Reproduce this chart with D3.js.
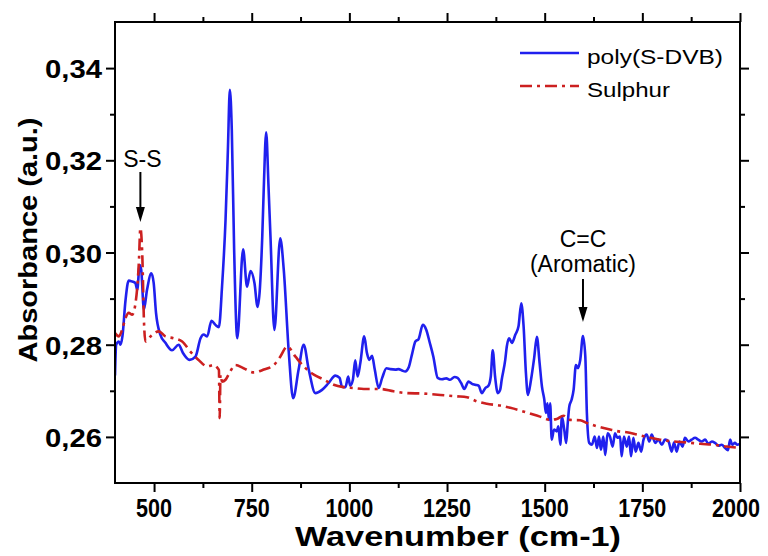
<!DOCTYPE html>
<html><head><meta charset="utf-8">
<script src="https://cdn.jsdelivr.net/npm/d3@7/dist/d3.min.js"></script>
<style>body{margin:0;background:#fff}svg{display:block}</style>
</head><body>
<svg id="chart" width="768" height="556"></svg>
<script>
// ---- data ----
const polyWavenumber = [400,403,410,414,419,427,435,444,452,457,463,467,474,482,493,499,505,516,529,546,563,574,591,606,619,627,636,647,657,666,674,683,689,694,699,705,713,728,738,747,757,765,777,781,787,793,798,808,823,832,845,856,870,883,896,913,930,947,964,975,981,990,997,1002,1009,1015,1021,1028,1038,1045,1051,1058,1065,1075,1084,1095,1105,1118,1126,1135,1143,1152,1160,1169,1177,1188,1197,1205,1215,1226,1237,1248,1258,1269,1277,1286,1294,1305,1314,1322,1331,1339,1348,1356,1362,1367,1373,1380,1386,1390,1399,1403,1409,1416,1425,1433,1440,1446,1452,1457,1465,1473,1480,1487,1493,1499,1503,1507,1511,1514,1518,1524,1531,1535,1540,1544,1550,1555,1559,1563,1569,1574,1580,1585,1591,1598,1604,1608,1614,1621,1628,1634,1639,1644,1650,1655,1661,1667,1674,1680,1686,1693,1697,1703,1710,1716,1721,1727,1733,1740,1747,1753,1761,1768,1774,1783,1791,1800,1808,1817,1825,1831,1838,1845,1853,1859,1868,1876,1885,1893,1902,1911,1919,1928,1936,1945,1953,1962,1969,1975,1980,1987,1993,2000];
const polyAbsorbance = [0.2733,0.2800,0.2807,0.2800,0.2818,0.2897,0.2939,0.2937,0.2934,0.2919,0.2973,0.2963,0.2876,0.2919,0.2955,0.2934,0.2869,0.2822,0.2804,0.2788,0.2800,0.2782,0.2767,0.2774,0.2814,0.2822,0.2818,0.2852,0.2843,0.2838,0.2926,0.3071,0.3222,0.3353,0.3266,0.3006,0.2814,0.3007,0.2926,0.2960,0.2934,0.2882,0.3035,0.3143,0.3261,0.3143,0.3035,0.2832,0.3031,0.2963,0.2782,0.2684,0.2746,0.2800,0.2746,0.2695,0.2702,0.2717,0.2733,0.2728,0.2709,0.2708,0.2731,0.2711,0.2724,0.2766,0.2731,0.2760,0.2818,0.2782,0.2767,0.2776,0.2746,0.2706,0.2728,0.2749,0.2747,0.2746,0.2747,0.2744,0.2742,0.2751,0.2778,0.2807,0.2812,0.2843,0.2832,0.2807,0.2774,0.2728,0.2725,0.2727,0.2724,0.2730,0.2728,0.2717,0.2704,0.2720,0.2715,0.2713,0.2711,0.2695,0.2706,0.2711,0.2731,0.2788,0.2731,0.2695,0.2702,0.2724,0.2767,0.2796,0.2814,0.2804,0.2822,0.2840,0.2890,0.2840,0.2738,0.2691,0.2724,0.2771,0.2817,0.2760,0.2709,0.2681,0.2652,0.2673,0.2637,0.2673,0.2594,0.2616,0.2612,0.2623,0.2583,0.2644,0.2616,0.2587,0.2630,0.2666,0.2681,0.2702,0.2756,0.2749,0.2767,0.2819,0.2774,0.2652,0.2587,0.2583,0.2601,0.2576,0.2601,0.2572,0.2601,0.2561,0.2608,0.2601,0.2579,0.2608,0.2598,0.2601,0.2558,0.2601,0.2579,0.2601,0.2558,0.2598,0.2568,0.2587,0.2568,0.2594,0.2605,0.2590,0.2605,0.2587,0.2594,0.2583,0.2594,0.2590,0.2568,0.2588,0.2568,0.2590,0.2579,0.2598,0.2590,0.2594,0.2598,0.2594,0.2590,0.2594,0.2585,0.2590,0.2587,0.2581,0.2583,0.2576,0.2571,0.2594,0.2583,0.2587,0.2583,0.2585];
const sulphurWavenumber = [400,410,418,427,435,444,452,461,465,470,474,478,491,512,529,550,572,593,614,636,653,663,666,668,670,674,683,695,708,729,755,781,807,823,841,862,883,909,935,960,985,1011,1037,1079,1113,1147,1190,1233,1275,1301,1327,1352,1386,1412,1454,1488,1514,1531,1548,1565,1591,1608,1634,1667,1689,1710,1736,1761,1795,1830,1864,1898,1932,1966,2000];
const sulphurAbsorbance = [0.2825,0.2818,0.2832,0.2858,0.2869,0.2865,0.2887,0.2977,0.3053,0.2991,0.2854,0.2807,0.2818,0.2829,0.2818,0.2814,0.2807,0.2785,0.2767,0.2753,0.2756,0.2749,0.2745,0.2641,0.2735,0.2720,0.2724,0.2742,0.2756,0.2749,0.2740,0.2746,0.2756,0.2774,0.2796,0.2774,0.2753,0.2735,0.2724,0.2713,0.2708,0.2706,0.2704,0.2704,0.2699,0.2695,0.2694,0.2691,0.2688,0.2686,0.2677,0.2672,0.2668,0.2663,0.2653,0.2644,0.2637,0.2639,0.2646,0.2637,0.2636,0.2630,0.2623,0.2616,0.2612,0.2610,0.2605,0.2600,0.2594,0.2590,0.2588,0.2585,0.2583,0.2579,0.2576];
const seriesNames = ["poly(S-DVB)", "Sulphur"];
const xMajorTicks = [500,750,1000,1250,1500,1750,2000];
const xMinorTicks = [625,875,1125,1375,1625,1875];
const yMajorTicks = [0.26,0.28,0.30,0.32,0.34];
const yMinorTicks = [0.27,0.29,0.31,0.33];
const xTitle = "Wavenumber (cm-1)";
const yTitle = "Absorbance (a.u.)";
const annotations = [
  {lines:["S-S"], at:465},
  {lines:["C=C","(Aromatic)"], at:1598}
];

// ---- drawing ----
const svg = d3.select("#chart");
const L = 115, R = 740, T = 22, B = 483;
const x = d3.scaleLinear().domain([400,2000]).range([L,R]);
const y = d3.scaleLinear().domain([0.25,0.35]).range([B,T]);
const font = "'Liberation Sans', Arial, Helvetica, sans-serif";
const BLUE = "#2020ee", RED = "#cc2020";

svg.append("defs").append("clipPath").attr("id","clip")
  .append("rect").attr("x",L).attr("y",T).attr("width",R-L).attr("height",B-T);

const line = d3.line().x(d=>x(d[0])).y(d=>y(d[1])).curve(d3.curveMonotoneX);
const polyData = polyWavenumber.map((w,i)=>[w,polyAbsorbance[i]]);
const sulData = sulphurWavenumber.map((w,i)=>[w,sulphurAbsorbance[i]]);

const plot = svg.append("g").attr("clip-path","url(#clip)");
plot.append("path").datum(polyData).attr("d",line)
  .attr("fill","none").attr("stroke",BLUE).attr("stroke-width",2.6).attr("stroke-linejoin","round");
plot.append("path").datum(sulData).attr("d",line)
  .attr("fill","none").attr("stroke",RED).attr("stroke-width",2.6)
  .attr("stroke-dasharray","12,5,3,5");

// axes (ticks outward on all four sides)
const fmtY = v => d3.format(".2f")(v).replace(".", ",");
function axis(gen, tx, ty, ticks, size) {
  const g = svg.append("g").attr("transform",`translate(${tx},${ty})`)
    .call(gen.tickValues(ticks).tickSize(size).tickFormat(""));
  g.select(".domain").remove();
  g.selectAll(".tick line").attr("stroke","#000").attr("stroke-width",2);
  return g;
}
axis(d3.axisBottom(x), 0, B, xMajorTicks, 9);
axis(d3.axisBottom(x), 0, B, xMinorTicks, 5);
axis(d3.axisTop(x), 0, T, xMajorTicks, 9);
axis(d3.axisTop(x), 0, T, xMinorTicks, 5);
axis(d3.axisLeft(y), L, 0, yMajorTicks, 9);
axis(d3.axisLeft(y), L, 0, yMinorTicks, 5);
axis(d3.axisRight(y), R, 0, yMajorTicks, 9);
axis(d3.axisRight(y), R, 0, yMinorTicks, 5);

svg.append("rect").attr("x",L).attr("y",T).attr("width",R-L).attr("height",B-T)
  .attr("fill","none").attr("stroke","#000").attr("stroke-width",2);

// tick labels
svg.append("g").selectAll("text").data(xMajorTicks).join("text")
  .attr("x",d=>d===2000 ? x(d)-4 : x(d)).attr("y",517).attr("text-anchor","middle")
  .attr("font-family",font).attr("font-weight","bold").attr("font-size",25)
  .attr("textLength",d=>String(d).length*12).attr("lengthAdjust","spacingAndGlyphs")
  .text(d=>d);
svg.append("g").selectAll("text").data(yMajorTicks).join("text")
  .attr("x",102).attr("y",d=>y(d)+10).attr("text-anchor","end")
  .attr("font-family",font).attr("font-weight","bold").attr("font-size",26)
  .attr("textLength",57).attr("lengthAdjust","spacingAndGlyphs")
  .text(fmtY);

// axis titles
svg.append("text").attr("x",458).attr("y",546).attr("text-anchor","middle")
  .attr("font-family",font).attr("font-weight","bold").attr("font-size",27)
  .attr("textLength",326).attr("lengthAdjust","spacingAndGlyphs").text(xTitle);
svg.append("text").attr("transform","translate(37,240) rotate(-90)").attr("text-anchor","middle")
  .attr("font-family",font).attr("font-weight","bold").attr("font-size",26)
  .attr("textLength",245).attr("lengthAdjust","spacingAndGlyphs").text(yTitle);

// legend
const leg = [{name:seriesNames[0], c:BLUE, dash:null, y:53, len:136},
             {name:seriesNames[1], c:RED, dash:"12,5,3,5", y:86, len:83}];
leg.forEach(l=>{
  svg.append("line").attr("x1",520).attr("x2",579).attr("y1",l.y).attr("y2",l.y)
    .attr("stroke",l.c).attr("stroke-width",2.6).attr("stroke-dasharray",l.dash);
  svg.append("text").attr("x",587).attr("y",l.y+11).attr("font-family",font).attr("font-size",21)
    .attr("textLength",l.len).attr("lengthAdjust","spacingAndGlyphs").text(l.name);
});

// annotations with arrows
function arrow(xp, y1, y2) {
  svg.append("line").attr("x1",xp).attr("x2",xp).attr("y1",y1).attr("y2",y2-10)
    .attr("stroke","#000").attr("stroke-width",2);
  svg.append("path").attr("d",`M${xp-4.5},${y2-15}L${xp+4.5},${y2-15}L${xp},${y2}Z`).attr("fill","#000");
}
const a0 = annotations[0];
svg.append("text").attr("x",x(a0.at)+2).attr("y",167).attr("text-anchor","middle")
  .attr("font-family",font).attr("font-size",23).text(a0.lines[0]);
arrow(x(a0.at), 172, 222);
const a1 = annotations[1];
svg.append("text").attr("x",x(a1.at)).attr("y",247).attr("text-anchor","middle")
  .attr("font-family",font).attr("font-size",23).text(a1.lines[0]);
svg.append("text").attr("x",x(a1.at)).attr("y",272).attr("text-anchor","middle")
  .attr("font-family",font).attr("font-size",23).text(a1.lines[1]);
arrow(x(a1.at), 279, 322);
</script>
</body></html>
